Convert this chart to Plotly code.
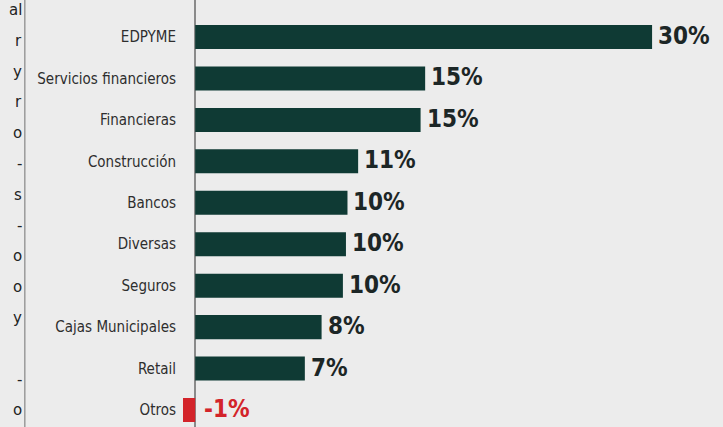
import plotly.graph_objects as go

categories = ["EDPYME", "Servicios financieros", "Financieras", "Construcción", "Bancos",
              "Diversas", "Seguros", "Cajas Municipales", "Retail", "Otros"]
values = [30.0, 15.1, 14.8, 10.7, 10.0, 9.9, 9.7, 8.3, 7.2, -0.8]
value_labels = ["30%", "15%", "15%", "11%", "10%", "10%", "10%", "8%", "7%", "-1%"]
side_fragments = ["al", "r", "y", "r", "o", "-", "s", "-", "o", "o", "y", "", "-", "o"]

GREEN = "#0f3a34"
RED = "#d3242a"
BG = "#ececec"
COND = "DejaVu Sans Condensed, Roboto, sans-serif"

colors = [RED if v < 0 else GREEN for v in values]

fig = go.Figure(go.Bar(
    y=categories, x=values, orientation="h",
    marker=dict(color=colors, line=dict(width=0)),
    hoverinfo="skip",
))

annotations = []
for c, v, lab in zip(categories, values, value_labels):
    annotations.append(dict(
        x=max(v, 0), y=c, xref="x", yref="y", text=lab, showarrow=False,
        xanchor="left", yanchor="middle", xshift=4 if v >= 0 else 7, yshift=1,
        font=dict(family=COND, size=24,
                  color=RED if v < 0 else "#1c2626", weight="bold"),
    ))

# cut-off text of the neighbouring column at the far left
for i, t in enumerate(side_fragments):
    if not t:
        continue
    annotations.append(dict(
        x=-0.3, y=1 - (10 + i * 30.8) / 427, xref="paper", yref="paper",
        text=t, showarrow=False, xanchor="right", yanchor="middle",
        font=dict(family="DejaVu Sans", size=15, color="#222222"),
    ))

fig.update_layout(
    width=723, height=427,
    margin=dict(l=183, r=10, t=0, b=0),
    paper_bgcolor=BG, plot_bgcolor=BG,
    bargap=0.42,
    showlegend=False,
    xaxis=dict(range=[-0.8, 34], showgrid=False, showticklabels=False,
               zeroline=True, zerolinecolor="#8a8a8a", zerolinewidth=1.5),
    yaxis=dict(range=[9.41, -0.893], showgrid=False, zeroline=False,
               ticks="", ticklabelstandoff=6,
               tickfont=dict(family=COND, size=15, color="#2e2e2e")),
    annotations=annotations,
    shapes=[dict(type="line", xref="paper", yref="paper", x0=-0.2985, x1=-0.2985,
                 y0=0, y1=1, line=dict(color="#9a9a9a", width=1.5))],
)

fig.write_html("out.html")
